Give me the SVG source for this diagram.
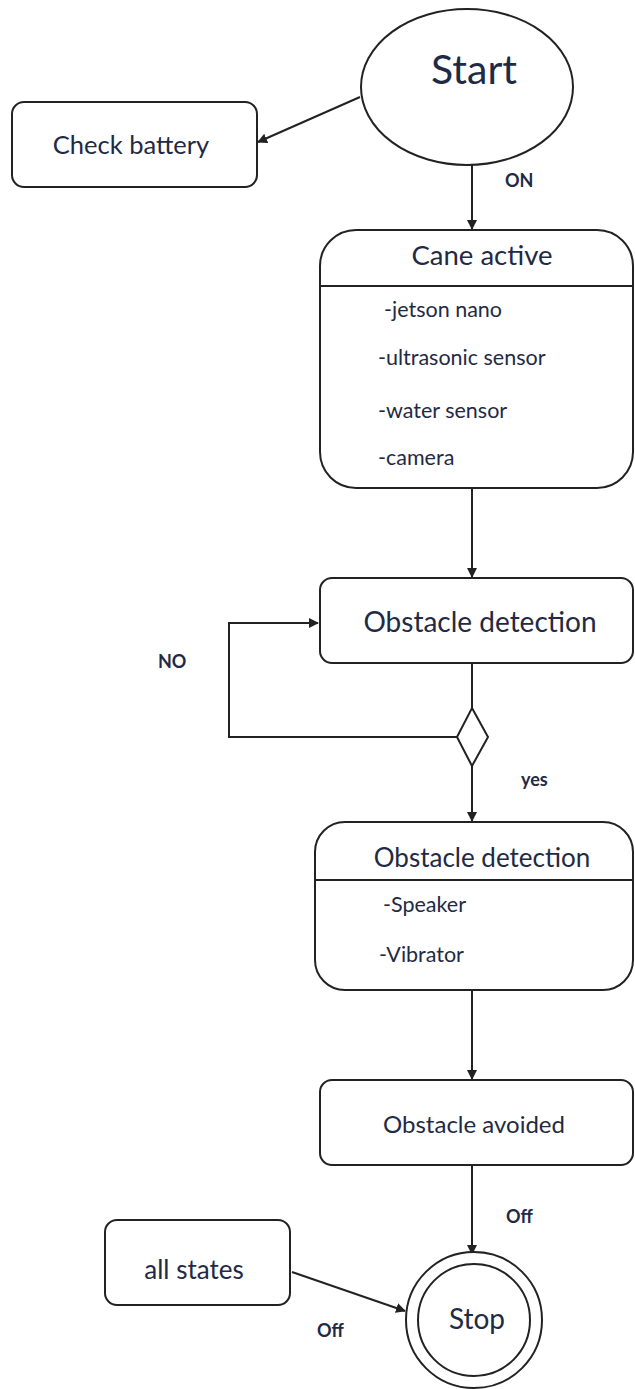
<svg xmlns="http://www.w3.org/2000/svg" width="635" height="1389" viewBox="0 0 635 1389">
<defs>
<style>
.shape{fill:#fff;stroke:#222;stroke-width:2}
.ln{fill:none;stroke:#222;stroke-width:2}
text{font-family:Lato,"Open Sans","Liberation Sans",sans-serif;fill:#1f2a44}
.t{text-anchor:middle}
.s{font-size:21.5px}
.l{font-size:18px;font-weight:bold}
</style>
<marker id="ah" markerWidth="10" markerHeight="10" refX="9" refY="5" orient="auto" markerUnits="userSpaceOnUse">
<path d="M0,0 L10,5 L0,10 z" fill="#222"/>
</marker>
</defs>
<rect width="635" height="1389" fill="#fff"/>
<g id="connectors">
<line class="ln" x1="360" y1="97" x2="258" y2="142" marker-end="url(#ah)"/>
<line class="ln" x1="472" y1="165" x2="472" y2="229" marker-end="url(#ah)"/>
<line class="ln" x1="472" y1="488" x2="472" y2="577" marker-end="url(#ah)"/>
<line class="ln" x1="472" y1="663" x2="472" y2="708"/>
<polyline class="ln" points="457,737 229,737 229,623 318,623" marker-end="url(#ah)"/>
<line class="ln" x1="472" y1="766" x2="472" y2="821" marker-end="url(#ah)"/>
<line class="ln" x1="472" y1="990" x2="472" y2="1079" marker-end="url(#ah)"/>
<line class="ln" x1="472" y1="1165" x2="472" y2="1254" marker-end="url(#ah)"/>
<line class="ln" x1="292" y1="1272" x2="405" y2="1311" marker-end="url(#ah)"/>
<text class="l" x="505" y="187">ON</text>
<text class="l" x="158" y="668">NO</text>
<text class="l" x="521" y="786">yes</text>
<text class="l" x="506" y="1223">Off</text>
<text class="l" x="317" y="1337">Off</text>
</g>
<g id="start">
<ellipse class="shape" cx="467" cy="87" rx="106" ry="78"/>
<text class="t" x="474" y="84" font-size="41">Start</text>
</g>
<g id="check-battery">
<rect class="shape" x="12" y="102" width="245" height="85" rx="12"/>
<text class="t" x="131" y="154" font-size="25.5">Check battery</text>
</g>
<g id="cane-active">
<rect class="shape" x="320" y="230" width="313" height="258" rx="36"/>
<line class="ln" x1="320" y1="286" x2="633" y2="286"/>
<text class="t" x="482" y="265" font-size="27.5">Cane active</text>
<text class="s" x="384" y="317">-jetson nano</text>
<text class="s" x="378" y="365">-ultrasonic sensor</text>
<text class="s" x="378" y="418">-water sensor</text>
<text class="s" x="378" y="465">-camera</text>
</g>
<g id="obstacle-detection">
<rect class="shape" x="320" y="578" width="313" height="85" rx="12"/>
<text class="t" x="480" y="632" font-size="28">Obstacle detection</text>
</g>
<g id="decision">
<polygon class="shape" points="472,708 488,737 472,766 457,737"/>
</g>
<g id="obstacle-detection-alert">
<rect class="shape" x="315" y="822" width="318" height="168" rx="30"/>
<line class="ln" x1="315" y1="880" x2="633" y2="880"/>
<text class="t" x="482" y="867" font-size="26">Obstacle detection</text>
<text class="s" x="383" y="912">-Speaker</text>
<text class="s" x="379" y="962">-Vibrator</text>
</g>
<g id="obstacle-avoided">
<rect class="shape" x="320" y="1080" width="313" height="85" rx="12"/>
<text class="t" x="474" y="1133" font-size="24">Obstacle avoided</text>
</g>
<g id="all-states">
<rect class="shape" x="105" y="1220" width="185" height="85" rx="12"/>
<text class="t" x="194" y="1279" font-size="26">all states</text>
</g>
<g id="stop">
<circle class="shape" cx="474" cy="1320" r="68"/>
<circle class="shape" cx="474" cy="1320" r="56"/>
<text class="t" x="477" y="1329" font-size="28">Stop</text>
</g>
</svg>
